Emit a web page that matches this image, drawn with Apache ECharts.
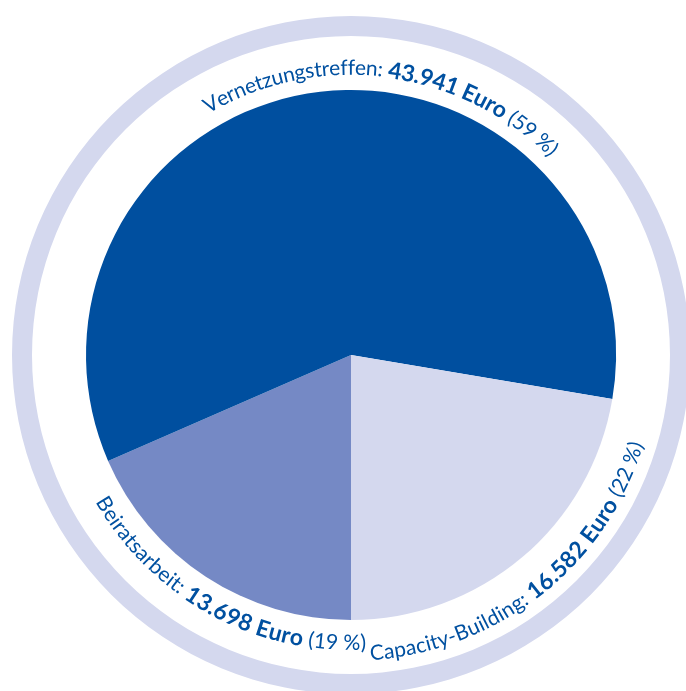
<!DOCTYPE html>
<html><head><meta charset="utf-8">
<script src="https://cdn.jsdelivr.net/npm/echarts@6.0.0/dist/echarts.min.js"></script>
<style>html,body{margin:0;padding:0;background:#fff}#c{width:686px;height:691px}</style>
</head><body><div id="c"></div>
<script>
// ---- data ----
const categories = ['Beiratsarbeit', 'Vernetzungstreffen', 'Capacity-Building'];
const values = [13698, 43941, 16582];
const percentLabels = ['(19 %)', '(59 %)', '(22 %)'];

// ---- layout / style ----
const CX = 351, CY = 355, R = 265;
const colors = ['#7589c5', '#004f9f', '#d4d8ee'];
const ringColor = '#d4d8ee';
const textColor = '#0050a0';
const FAMILY = 'Lato, "Noto Sans", sans-serif';
const labelLayout = [
  { angle: 241.4, r: 288, dir: 'ccw' },
  { angle: 82.7, r: 287, dir: 'cw' },
  { angle: 308.3, r: 299, dir: 'ccw' }
];
const fonts = {
  name: { size: 21, weight: 'normal' },
  amount: { size: 23, weight: 'bold' },
  pct: { size: 21, weight: 'normal' }
};

function fmt(v) { return String(v).replace(/\B(?=(\d{3})+(?!\d))/g, '.') + ' Euro'; }

const ctx = document.createElement('canvas').getContext('2d');
function charWidth(ch, f) {
  ctx.font = f.weight + ' ' + f.size + 'px ' + FAMILY;
  return ctx.measureText(ch).width;
}

const elements = [];
elements.push({
  type: 'ring', z: 0, silent: true,
  shape: { cx: CX, cy: CY, r: 339, r0: 319 },
  style: { fill: ringColor }
});

categories.forEach((cat, i) => {
  const segs = [
    { t: cat + ': ', f: fonts.name },
    { t: fmt(values[i]), f: fonts.amount },
    { t: ' ' + percentLabels[i], f: fonts.pct }
  ];
  const chars = [];
  segs.forEach(s => { for (const ch of s.t) chars.push({ ch, f: s.f, w: charWidth(ch, s.f) }); });
  const L = labelLayout[i];
  const total = chars.reduce((a, c) => a + c.w, 0);
  const span = total / L.r;
  const mid = L.angle * Math.PI / 180;
  let th = L.dir === 'cw' ? mid + span / 2 : mid - span / 2;
  chars.forEach(c => {
    const d = c.w / L.r;
    const tc = L.dir === 'cw' ? th - d / 2 : th + d / 2;
    th = L.dir === 'cw' ? th - d : th + d;
    if (c.ch === ' ') return;
    elements.push({
      type: 'text', z: 10, silent: true,
      x: CX + L.r * Math.cos(tc),
      y: CY - L.r * Math.sin(tc),
      rotation: L.dir === 'cw' ? tc - Math.PI / 2 : tc + Math.PI / 2,
      style: {
        text: c.ch, fill: textColor,
        fontSize: c.f.size, fontWeight: c.f.weight, fontFamily: FAMILY,
        align: 'center', verticalAlign: 'middle'
      }
    });
  });
});

const chart = echarts.init(document.getElementById('c'), null, { renderer: 'canvas' });
chart.setOption({
  animation: false,
  backgroundColor: '#fff',
  graphic: { elements },
  series: [{
    type: 'pie',
    center: [CX, CY],
    radius: R,
    startAngle: 270,
    clockwise: true,
    silent: true,
    label: { show: false },
    labelLine: { show: false },
    emphasis: { disabled: true },
    itemStyle: { borderWidth: 0 },
    data: categories.map((c, i) => ({ name: c, value: values[i], itemStyle: { color: colors[i] } }))
  }]
});
</script>
</body></html>
